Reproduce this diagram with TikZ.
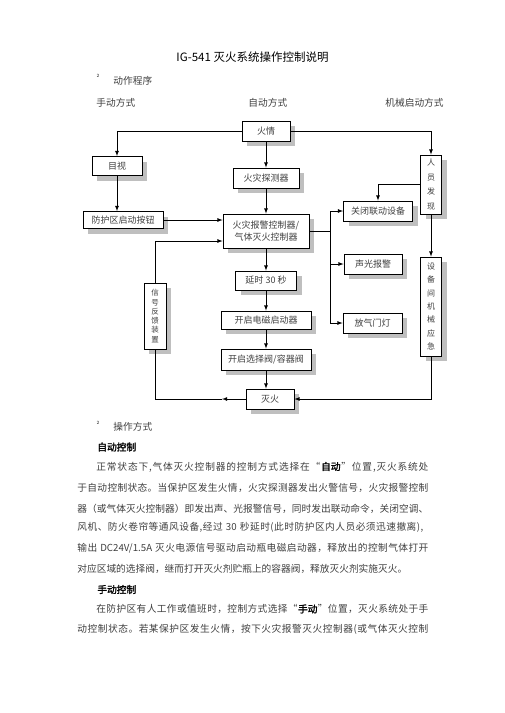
\documentclass[tikz,border=0pt]{standalone}
\usepackage{fontspec}
\setmainfont{Noto Sans CJK SC}[AutoFakeBold=2]
\usetikzlibrary{shadows,calc}
\makeatletter
% spread the characters of one line evenly over a given width
\newcommand{\spreadline}[2]{\hbox to #1{\@tfor\jl@item:=#2\do{{\jl@item}\hskip 0pt plus 1fil}\unskip}}
\makeatother
\tikzset{
  flowbox/.style={draw, line width=.8pt, fill=white, inner sep=0pt, text=black!75,
    font=\fontsize{9}{12}\selectfont,
    drop shadow={shadow xshift=5pt, shadow yshift=-5pt, fill=black!25, opacity=1}},
  vbox/.style={flowbox, align=center},
  bodytext/.style={anchor=west, inner sep=0pt, text=black!75, font=\fontsize{9.7}{12}\selectfont},
  bulletmark/.style={font=\fontsize{7}{8}\selectfont, text=black!80},
}
\begin{document}
\begin{tikzpicture}[>=latex, x=1pt, y=-1pt, line width=.8pt]
\useasboundingbox[fill=white] (0,0) rectangle (504,713);
% heading
\node[font=\fontsize{11.5}{14}\selectfont] (title) at (252.5,57) {IG-541 灭火系统操作控制说明};
\node[bulletmark] (mark1) at (98,77) {²};
\node[bodytext] (sec1) at (113,80.5) {动作程序};
\node[bodytext] (manual) at (96,103) {手动方式};
\node[bodytext] (auto) at (248,103) {自动方式};
\node[bodytext] (mech) at (385,103) {机械启动方式};
% boxes
\node[flowbox, minimum width=48pt, minimum height=20pt] (alarm) at (266,131) {火情};
\node[flowbox, minimum width=50pt, minimum height=19pt] (look) at (117,166) {目视};
\node[flowbox, minimum width=66pt, minimum height=20pt] (detector) at (266,178) {火灾探测器};
\node[flowbox, minimum width=80pt, minimum height=17pt] (button) at (123,220) {防护区启动按钮};
\node[flowbox, minimum width=86pt, minimum height=34pt, align=center] (ctrl) at (266,231) {火灾报警控制器/\\气体灭火控制器};
\node[flowbox, minimum width=69pt, minimum height=20pt] (shutdown) at (378,211) {关闭联动设备};
\node[vbox, minimum width=21pt, minimum height=59pt, font=\fontsize{8}{14.5}\selectfont] (person) at (431,184.5) {人\\员\\发\\现};
\node[flowbox, minimum width=61pt, minimum height=19pt] (delay) at (266,280.5) {延时 30 秒};
\node[flowbox, minimum width=90pt, minimum height=18pt] (solenoid) at (266,320) {开启电磁启动器};
\node[flowbox, minimum width=90pt, minimum height=21pt] (valve) at (266,359.5) {开启选择阀/容器阀};
\node[flowbox, minimum width=48pt, minimum height=20pt] (fire) at (270,399) {灭火};
\node[flowbox, minimum width=58pt, minimum height=20pt] (sound) at (373,264) {声光报警};
\node[flowbox, minimum width=59pt, minimum height=20pt] (vent) at (372.5,323) {放气门灯};
\node[vbox, minimum width=21pt, minimum height=99pt, font=\fontsize{8}{13.3}\selectfont] (device) at (431,306.5) {设\\备\\间\\机\\械\\应\\急};
\node[vbox, minimum width=22pt, minimum height=66pt, font=\fontsize{7.5}{9.3}\selectfont] (feedback) at (155,316) {信\\号\\反\\馈\\装\\置};
\coordinate (bus) at (330,231);
\coordinate (back) at (222,399);
% connectors
\draw[->] (alarm.west) -| (look.north);
\draw[->] (look.south) -- (look.south |- button.north);
\draw[->] (button.east) -- (button.east -| ctrl.west);
\draw[->] (feedback.north) |- ($(ctrl.west)+(0,10)$);
\draw[->] (alarm) -- (detector);
\draw[->] (detector) -- (ctrl);
\draw[->] (alarm.east) -| (person.north);
\draw[->] (person.west) -| (shutdown.north);
\draw (ctrl.east) -- (bus);
\draw (bus |- shutdown) -- (bus |- vent);
\draw[->] (bus |- shutdown) -- (shutdown.west);
\draw[->] (bus |- sound) -- (sound.west);
\draw[->] (bus |- vent) -- (vent.west);
\draw[->] (ctrl) -- (delay);
\draw[->] (delay) -- (solenoid);
\draw[->] (solenoid) -- (valve);
\draw[->] (valve.south) -- (valve.south |- fire.north);
\draw[->] (person) -- (device);
\draw[->] (device.south) |- (fire.east);
\draw[->] (fire.west) -- (back);
\draw (back) -| (feedback.south);
% text below
\node[bulletmark] (mark2) at (98,424.5) {²};
\node[bodytext] (sec2) at (113,426.5) {操作方式};
\node[bodytext, font=\fontsize{9.7}{12}\selectfont\bfseries, text=black] (autohead) at (97,447) {自动控制};
\node[bodytext] (p1) at (96,467) {\spreadline{332pt}{正常状态下,气体灭火控制器的控制方式选择在“{\bfseries\color{black}自动}”位置,灭火系统处}};
\node[bodytext] (p2) at (77,488) {\spreadline{351pt}{于自动控制状态。当保护区发生火情，火灾探测器发出火警信号，火灾报警控制}};
\node[bodytext] (p3) at (77,508.5) {\spreadline{351pt}{器（或气体灭火控制器）即发出声、光报警信号，同时发出联动命令，关闭空调、}};
\node[bodytext] (p4) at (77,527.5) {\spreadline{346pt}{风机、防火卷帘等通风设备,经过\ {30}\ 秒延时(此时防护区内人员必须迅速撤离),}};
\node[bodytext] (p5) at (77,548) {\spreadline{351pt}{输出\ {DC24V/1.5A}\ 灭火电源信号驱动启动瓶电磁启动器，释放出的控制气体打开}};
\node[bodytext] (p6) at (77,569) {对应区域的选择阀，继而打开灭火剂贮瓶上的容器阀，释放灭火剂实施灭火。};
\node[bodytext, font=\fontsize{9.7}{12}\selectfont\bfseries, text=black] (manualhead) at (97,589.5) {手动控制};
\node[bodytext] (p7) at (96,609) {\spreadline{332pt}{在防护区有人工作或值班时，控制方式选择“{\bfseries\color{black}手动}”位置，灭火系统处于手}};
\node[bodytext] (p8) at (77,629) {\spreadline{351pt}{动控制状态。若某保护区发生火情，按下火灾报警灭火控制器(或气体灭火控制}};
\end{tikzpicture}
\end{document}
